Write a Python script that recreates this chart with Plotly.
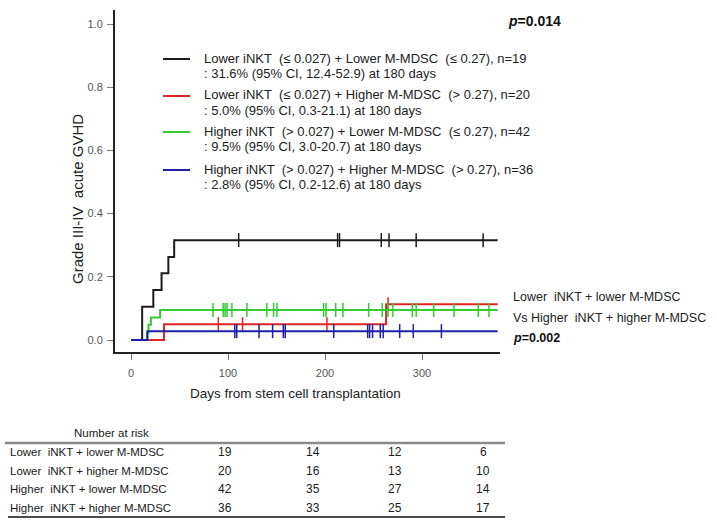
import plotly.graph_objects as go

# ---------------- data ----------------
end_day = 378
black_t = [0, 11.5, 23, 31.5, 38.5, 44.5, end_day]
black_v = [0, 0.105, 0.158, 0.211, 0.263, 0.316, 0.316]
black_cens = [111, 213, 215, 258, 266, 294, 363]

red_t = [0, 34, 263, end_day]
red_v = [0, 0.05, 0.113, 0.113]
red_cens = [90, 115, 202, 265]

green_t = [0, 16.5, 18, 20.5, 30, end_day]
green_v = [0, 0.024, 0.048, 0.071, 0.095, 0.095]
green_cens = [84.5, 95, 97, 99, 104, 119.5, 140, 147, 150.5, 198.5, 201, 211,
              218.5, 245, 259, 265, 270, 290, 294, 312, 333, 358, 369]

blue_t = [0, 17, end_day]
blue_v = [0, 0.028, 0.028]
blue_cens = [107, 109, 132, 146, 157, 159, 209, 244, 246, 249, 257, 260, 277, 291, 320]

legend_line1 = [
    "Lower iNKT  (≤ 0.027) + Lower M-MDSC  (≤ 0.27), n=19",
    "Lower iNKT  (≤ 0.027) + Higher M-MDSC  (> 0.27), n=20",
    "Higher iNKT  (> 0.027) + Lower M-MDSC  (≤ 0.27), n=42",
    "Higher iNKT  (> 0.027) + Higher M-MDSC  (> 0.27), n=36",
]
legend_line2 = [
    ": 31.6% (95% CI, 12.4-52.9) at 180 days",
    ": 5.0% (95% CI, 0.3-21.1) at 180 days",
    ": 9.5% (95% CI, 3.0-20.7) at 180 days",
    ": 2.8% (95% CI, 0.2-12.6) at 180 days",
]

risk_groups = ["Lower  iNKT + lower M-MDSC", "Lower  iNKT + higher M-MDSC",
               "Higher  iNKT + lower M-MDSC", "Higher  iNKT + higher M-MDSC"]
risk_counts = [[19, 14, 12, 6], [20, 16, 13, 10], [42, 35, 27, 14], [36, 33, 25, 17]]

x_ticks = [0, 100, 200, 300]
y_ticks = [0.0, 0.2, 0.4, 0.6, 0.8, 1.0]

# ---------------- styling ----------------
colors = ["#1c1c1c", "#e02424", "#33cc33", "#1f1fa8"]
FONT = "Liberation Sans, Arial, sans-serif"
NARROW = "Liberation Sans Narrow, Arial Narrow, Liberation Sans, Arial, sans-serif"
TABLE_SIZE = 11.5

L, R, T, B = 115, 500, 10, 352  # plot area in px
W, H = 717, 528


def px_x(p):
    return (p - L) / (R - L)


def px_y(p):
    return (B - p) / (B - T)


def step_value(ts, vs, t):
    val = vs[0]
    for ti, vi in zip(ts, vs):
        if ti <= t:
            val = vi
    return val


fig = go.Figure()
series = [(black_t, black_v, black_cens), (red_t, red_v, red_cens),
          (green_t, green_v, green_cens), (blue_t, blue_v, blue_cens)]
for (ts, vs, cs), col in zip(series, colors):
    fig.add_trace(go.Scatter(x=ts, y=vs, mode="lines", line=dict(color=col, width=2, shape="hv"),
                             showlegend=False, hoverinfo="skip"))
    fig.add_trace(go.Scatter(x=cs, y=[step_value(ts, vs, c) for c in cs], mode="markers",
                             marker=dict(symbol="line-ns", size=10, line=dict(color=col, width=1.5)),
                             showlegend=False, hoverinfo="skip"))

annotations = []
shapes = []

# legend inside plot
leg_y = [58, 95, 131, 169]
for i in range(4):
    shapes.append(dict(type="line", xref="paper", yref="paper",
                       x0=px_x(163), x1=px_x(190), y0=px_y(leg_y[i] + 1), y1=px_y(leg_y[i] + 1),
                       line=dict(color=colors[i], width=2)))
    annotations.append(dict(text=legend_line1[i], xref="paper", yref="paper",
                            x=px_x(202), y=px_y(leg_y[i]), xanchor="left", yanchor="middle",
                            showarrow=False, font=dict(family=FONT, size=13, color="#222")))
    annotations.append(dict(text=legend_line2[i], xref="paper", yref="paper",
                            x=px_x(202), y=px_y(leg_y[i] + 15), xanchor="left", yanchor="middle",
                            showarrow=False, font=dict(family=FONT, size=13, color="#222")))

annotations.append(dict(text="<b><i>p</i>=0.014</b>", xref="paper", yref="paper",
                        x=px_x(534), y=px_y(21), xanchor="center", yanchor="middle",
                        showarrow=False, font=dict(family=FONT, size=14, color="#111")))

# right-side comparison text
annotations.append(dict(text="Lower  iNKT + lower M-MDSC", xref="paper", yref="paper",
                        x=px_x(511), y=px_y(297), xanchor="left", yanchor="middle",
                        showarrow=False, font=dict(family=FONT, size=12.5, color="#222")))
annotations.append(dict(text="Vs Higher  iNKT + higher M-MDSC", xref="paper", yref="paper",
                        x=px_x(511), y=px_y(318), xanchor="left", yanchor="middle",
                        showarrow=False, font=dict(family=FONT, size=12.5, color="#222")))
annotations.append(dict(text="<b><i>p</i>=0.002</b>", xref="paper", yref="paper",
                        x=px_x(511), y=px_y(338), xanchor="left", yanchor="middle",
                        showarrow=False, font=dict(family=FONT, size=12.5, color="#111")))

# axis titles
annotations.append(dict(text="Grade III-IV  acute GVHD", xref="paper", yref="paper",
                        x=px_x(78), y=px_y(199), xanchor="center", yanchor="middle", textangle=-90,
                        showarrow=False, font=dict(family=FONT, size=15, color="#222")))
annotations.append(dict(text="Days from stem cell transplantation", xref="paper", yref="paper",
                        x=px_x(295), y=px_y(393), xanchor="center", yanchor="middle",
                        showarrow=False, font=dict(family=FONT, size=13.5, color="#222")))

# number-at-risk table
annotations.append(dict(text="Number at risk", xref="paper", yref="paper",
                        x=px_x(111), y=px_y(433), xanchor="center", yanchor="middle",
                        showarrow=False, font=dict(family=NARROW, size=TABLE_SIZE, color="#222")))
shapes.append(dict(type="line", xref="paper", yref="paper", x0=px_x(5), x1=px_x(505),
                   y0=px_y(443), y1=px_y(443), line=dict(color="#8a8a8a", width=2.5)))
shapes.append(dict(type="line", xref="paper", yref="paper", x0=px_x(8), x1=px_x(505),
                   y0=px_y(517), y1=px_y(517), line=dict(color="#111", width=1.5)))
row_y = [452, 471, 489, 508]
col_x = [225, 313, 395, 483]
for i in range(4):
    annotations.append(dict(text=risk_groups[i], xref="paper", yref="paper",
                            x=px_x(8), y=px_y(row_y[i]), xanchor="left", yanchor="middle",
                            showarrow=False, font=dict(family=NARROW, size=TABLE_SIZE, color="#1a1a1a")))
    for j in range(4):
        annotations.append(dict(text=str(risk_counts[i][j]), xref="paper", yref="paper",
                                x=px_x(col_x[j]), y=px_y(row_y[i]), xanchor="center", yanchor="middle",
                                showarrow=False, font=dict(family=NARROW, size=TABLE_SIZE + 0.5, color="#1a1a1a")))

x_lo = (L - 131) / 0.97
x_hi = (R - 131) / 0.97
y_lo = (340 - B) / 316
y_hi = (340 - T) / 316

fig.update_layout(
    width=W, height=H, autosize=False,
    margin=dict(l=L, r=W - R, t=T, b=H - B, pad=0, autoexpand=False),
    paper_bgcolor="white", plot_bgcolor="white",
    font=dict(family=FONT, color="#222"),
    xaxis=dict(range=[x_lo, x_hi], tickvals=x_ticks, ticktext=[str(v) for v in x_ticks],
               showgrid=False, zeroline=False, showline=True, linecolor="#222", linewidth=2,
               ticks="outside", ticklen=6, tickwidth=1, tickcolor="#777",
               tickfont=dict(family=FONT, size=11, color="#555"), ticklabelstandoff=4),
    yaxis=dict(range=[y_lo, y_hi], tickvals=y_ticks, ticktext=[f"{v:.1f}" for v in y_ticks],
               showgrid=False, zeroline=False, showline=True, linecolor="#222", linewidth=2,
               ticks="outside", ticklen=6, tickwidth=1, tickcolor="#777",
               tickfont=dict(family=FONT, size=11, color="#555"), ticklabelstandoff=2),
    annotations=annotations, shapes=shapes,
)

fig.write_html("out.html", config={"displayModeBar": False},
               post_script="document.body.style.margin='0';document.body.style.overflow='hidden';")
